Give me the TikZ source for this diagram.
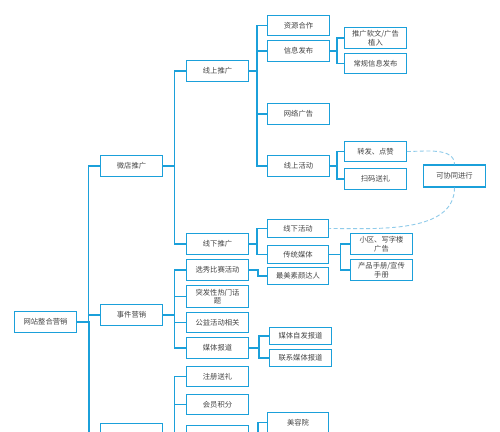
\documentclass[tikz,border=0pt]{standalone}
\usepackage{fontspec}
\newfontfamily\cjk{Noto Sans CJK SC}
\definecolor{ln}{HTML}{1BA0DA}
\definecolor{dl}{HTML}{8FCBEA}
\definecolor{txt}{HTML}{444444}
\tikzset{
  box/.style={draw=ln, line width=1.3pt, fill=white, minimum width=61.5pt, minimum height=20.5pt,
    inner sep=1pt, font=\cjk\fontsize{7.3}{8.6}\selectfont, text=txt, align=center},
  conn/.style={draw=ln, line width=1.3pt},
  dconn/.style={draw=dl, line width=0.9pt, dash pattern=on 4pt off 2.5pt}
}
\begin{document}
\begin{tikzpicture}[x=1pt,y=-1pt]
\path[use as bounding box, clip] (0,0) rectangle (500,431);
\fill[white] (0,0) rectangle (500,431);
% nodes
\node[box] (root) at (45.5,322) {网站整合营销};
\node[box] (a) at (131.5,166) {微店推广};
\node[box] (b) at (131.5,315) {事件营销};
\node[box] (c) at (131.5,433.5) {};
\node[box] (a1) at (217.5,71) {线上推广};
\node[box] (a2) at (217.5,244) {线下推广};
\node[box] (a11) at (298.5,25.5) {资源合作};
\node[box] (a12) at (298.5,51) {信息发布};
\node[box] (a121) at (375.5,38) {推广软文/广告\\植入};
\node[box] (a122) at (375.5,63.5) {常规信息发布};
\node[box] (a13) at (298.5,114) {网络广告};
\node[box] (a14) at (298.5,166) {线上活动};
\node[box] (a141) at (375.5,151.5) {转发、点赞};
\node[box] (a142) at (375.5,179) {扫码送礼};
\node[box, minimum height=22pt] (co) at (454.5,176) {可协同进行};
\node[box, minimum height=18pt] (a21) at (298,228.5) {线下活动};
\node[box, minimum height=18pt] (a22) at (298,254.5) {传统媒体};
\node[box] (a221) at (381.5,244) {小区、写字楼\\广告};
\node[box] (a222) at (381.5,270) {产品手册/宣传\\手册};
\node[box] (b1) at (217.5,270) {选秀比赛活动};
\node[box, minimum height=17pt] (b11) at (298,276) {最美素颜达人};
\node[box, minimum height=21.5pt] (b2) at (217.5,296.5) {突发性热门话\\题};
\node[box] (b3) at (217.5,322.5) {公益活动相关};
\node[box] (b4) at (217.5,348) {媒体报道};
\node[box, minimum height=17pt] (b41) at (300.5,336) {媒体自发报道};
\node[box, minimum height=17pt] (b42) at (300.5,358) {联系媒体报道};
\node[box] (c1) at (217.5,376.5) {注册送礼};
\node[box] (c2) at (217.5,404.5) {会员积分};
\node[box] (c3) at (217.5,436) {};
\node[box] (c31) at (298,422.5) {美容院};
\coordinate (rootmore) at (89,445);
\coordinate (cmore) at (174.5,445);
\coordinate (c3more) at (258,445);
% connectors
\draw[conn] (root.east) -- ++(11.5,0) |- (a.west);
\draw[conn] (root.east) -- ++(11.5,0) |- (b.west);
\draw[conn] (root.east) -| (rootmore);
\draw[conn] (a.east) -- ++(11.5,0) |- (a1.west);
\draw[conn] (a.east) -- ++(11.5,0) |- (a2.west);
\draw[conn] (b.east) -- ++(11.5,0) |- (b1.west);
\draw[conn] (b.east) -- ++(11.5,0) |- (b2.west);
\draw[conn] (b.east) -- ++(11.5,0) |- (b3.west);
\draw[conn] (b.east) -- ++(11.5,0) |- (b4.west);
\draw[conn] (c.east) -- ++(11.5,0) |- (c1.west);
\draw[conn] (c.east) -- ++(11.5,0) |- (c2.west);
\draw[conn] (c.east) -| (cmore);
\draw[conn] (a1.east) -- ++(8,0) |- (a11.west);
\draw[conn] (a1.east) -- ++(8,0) |- (a12.west);
\draw[conn] (a1.east) -- ++(8,0) |- (a13.west);
\draw[conn] (a1.east) -- ++(8,0) |- (a14.west);
\draw[conn] (a12.east) -- ++(7,0) |- (a121.west);
\draw[conn] (a12.east) -- ++(7,0) |- (a122.west);
\draw[conn] (a14.east) -- ++(7,0) |- (a141.west);
\draw[conn] (a14.east) -- ++(7,0) |- (a142.west);
\draw[conn] (a2.east) -- ++(8,0) |- (a21.west);
\draw[conn] (a2.east) -- ++(8,0) |- (a22.west);
\draw[conn] (a22.east) -- ++(11,0) |- (a221.west);
\draw[conn] (a22.east) -- ++(11,0) |- (a222.west);
\draw[conn] (b1.east) -- ++(9,0) |- (b11.west);
\draw[conn] (b4.east) -- ++(10,0) |- (b41.west);
\draw[conn] (b4.east) -- ++(10,0) |- (b42.west);
\draw[conn] (c3.east) -- ++(9,0) |- (c31.west);
\draw[conn] (c3.east) -| (c3more);
\draw[dconn] (a141.east) to[out=0, in=90, looseness=0.9] (co.north);
\draw[dconn] (co.south) to[out=-90, in=0, looseness=0.9] (a21.east);
\end{tikzpicture}
\end{document}
